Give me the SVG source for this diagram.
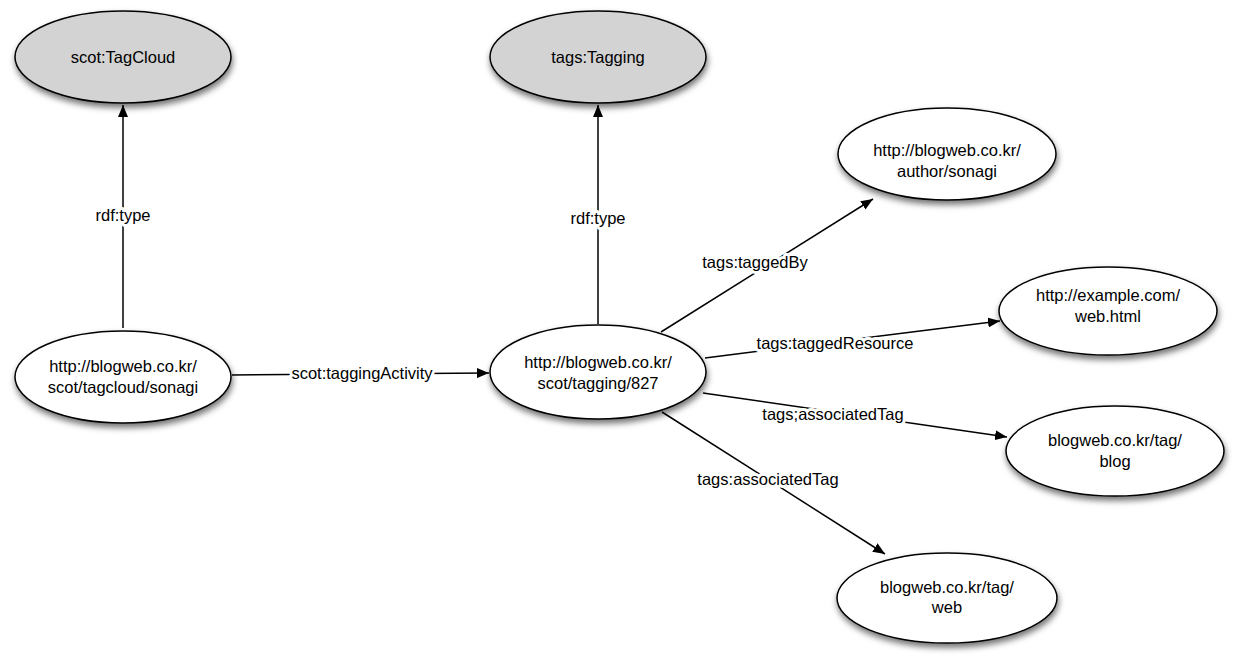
<svg xmlns="http://www.w3.org/2000/svg" width="1239" height="666" viewBox="0 0 1239 666">
<style>
.n{fill:#fff;stroke:#000;stroke-width:1.5;filter:url(#sh)}
.g{fill:#d3d3d3}
text{font-family:"Liberation Sans",Arial,sans-serif;font-size:16.5px;fill:#000;text-anchor:middle}
.e{stroke:#000;stroke-width:1.5;fill:none;marker-end:url(#ah)}
.l{paint-order:stroke;stroke:#fff;stroke-width:6px;stroke-linejoin:round}
</style>
<defs>
<filter id="sh" x="-20%" y="-20%" width="140%" height="150%">
<feDropShadow dx="1" dy="4" stdDeviation="3" flood-color="#000" flood-opacity="0.55"/>
</filter>
<marker id="ah" viewBox="0 0 12 10" refX="12" refY="5" markerWidth="12" markerHeight="10" markerUnits="userSpaceOnUse" orient="auto">
<path d="M0,0 L12,5 L0,10 Z" fill="#000"/>
</marker>
</defs>
<rect width="1239" height="666" fill="#fff"/>
<g id="connectors">
<line class="e" x1="123" y1="328" x2="123" y2="105"/>
<line class="e" x1="598" y1="324" x2="598" y2="105"/>
<line class="e" x1="232" y1="375" x2="489" y2="373"/>
<line class="e" x1="661" y1="332" x2="873" y2="199"/>
<line class="e" x1="705" y1="358" x2="1000" y2="321"/>
<line class="e" x1="703" y1="393" x2="1007" y2="437"/>
<line class="e" x1="662" y1="412" x2="885" y2="554"/>
<text class="l" x="123" y="221">rdf:type</text>
<text class="l" x="598" y="224">rdf:type</text>
<text class="l" x="362" y="379">scot:taggingActivity</text>
<text class="l" x="755" y="268">tags:taggedBy</text>
<text class="l" x="835" y="349">tags:taggedResource</text>
<text class="l" x="833" y="420">tags;associatedTag</text>
<text class="l" x="768" y="485">tags:associatedTag</text>
</g>
<g id="tagcloud"><ellipse class="n g" cx="123" cy="57" rx="108" ry="46"/><text x="123" y="63">scot:TagCloud</text></g>
<g id="tagging"><ellipse class="n g" cx="598" cy="57" rx="108" ry="46"/><text x="598" y="63">tags:Tagging</text></g>
<g id="sonagi"><ellipse class="n" cx="123" cy="377" rx="108" ry="46"/><text x="123" y="372">http://blogweb.co.kr/</text><text x="123" y="393">scot/tagcloud/sonagi</text></g>
<g id="t827"><ellipse class="n" cx="598" cy="372" rx="108" ry="47"/><text x="598" y="368">http://blogweb.co.kr/</text><text x="598" y="389">scot/tagging/827</text></g>
<g id="author"><ellipse class="n" cx="947" cy="154" rx="109" ry="46"/><text x="947" y="156">http://blogweb.co.kr/</text><text x="947" y="177">author/sonagi</text></g>
<g id="example"><ellipse class="n" cx="1108" cy="311" rx="109" ry="44"/><text x="1108" y="301">http://example.com/</text><text x="1108" y="322">web.html</text></g>
<g id="blog"><ellipse class="n" cx="1115" cy="451" rx="109" ry="45"/><text x="1115" y="446">blogweb.co.kr/tag/</text><text x="1115" y="467">blog</text></g>
<g id="web"><ellipse class="n" cx="947" cy="598" rx="110" ry="45"/><text x="947" y="593">blogweb.co.kr/tag/</text><text x="947" y="613">web</text></g>
</svg>
